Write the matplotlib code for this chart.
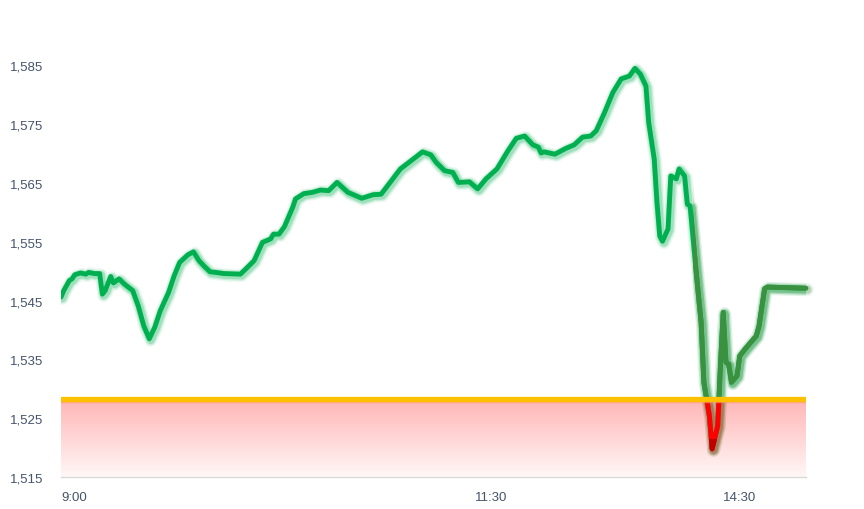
import matplotlib
matplotlib.use("Agg")
import matplotlib.pyplot as plt
import matplotlib.patheffects as pe
from matplotlib.patches import Rectangle
from matplotlib.colors import LinearSegmentedColormap
import numpy as np

# minutes of trading time since 9:00 (lunch break removed) and price
minutes = [0, 1, 3, 4, 5, 7, 9, 10, 12, 14, 15, 16, 18, 19, 21, 23, 26, 28, 30, 32,
           34, 36, 39, 41, 43, 46, 48, 50, 52, 54, 56, 59, 65, 67, 70, 73, 76, 77, 79, 81,
           84, 85, 88, 91, 94, 97, 100, 104, 109, 113, 116, 117, 123, 128, 131, 134, 136, 139, 142, 144,
           148, 151, 154, 158, 162, 165, 168, 171, 173, 174, 175, 179, 183, 186, 189, 192, 194, 197, 200, 203,
           206, 208, 210, 212, 213, 215, 216, 217, 218, 220, 221, 223, 224, 226, 227, 228, 230, 232, 233, 235,
           236, 238, 239, 240, 241, 242, 243, 245, 246, 248, 250, 252, 253, 255, 256, 270]
price = [1545.6, 1546.7, 1548.4, 1548.7, 1549.4, 1549.7, 1549.5, 1549.8, 1549.6, 1549.6,
         1546.1, 1546.7, 1549.1, 1548.0, 1548.7, 1547.8, 1546.7, 1544.1, 1540.7, 1538.5,
         1540.5, 1543.3, 1546.4, 1549.2, 1551.5, 1552.8, 1553.3, 1551.8, 1550.8, 1549.9,
         1549.8, 1549.6, 1549.5, 1550.4, 1551.8, 1554.9, 1555.5, 1556.3, 1556.3, 1557.6,
         1560.9, 1562.3, 1563.2, 1563.4, 1563.8, 1563.7, 1565.1, 1563.4, 1562.4, 1563.0,
         1563.1, 1563.7, 1567.4, 1569.2, 1570.3, 1569.8, 1568.5, 1567.1, 1566.8, 1565.1,
         1565.2, 1564.0, 1565.7, 1567.4, 1570.5, 1572.6, 1573.0, 1571.5, 1571.1, 1570.1,
         1570.3, 1569.9, 1570.9, 1571.5, 1572.8, 1573.0, 1573.9, 1577.0, 1580.4, 1582.7,
         1583.2, 1584.5, 1583.5, 1581.5, 1575.3, 1569.1, 1561.7, 1556.0, 1555.1, 1557.2,
         1566.2, 1565.7, 1567.4, 1566.2, 1561.4, 1561.1, 1550.9, 1541.3, 1531.1, 1525.4,
         1519.8, 1523.7, 1533.9, 1543.0, 1534.5, 1534.2, 1531.1, 1532.2, 1535.6, 1536.8,
         1537.9, 1539.0, 1540.7, 1547.0, 1547.3, 1547.1]
threshold = 1528.2
yticks = [1515, 1525, 1535, 1545, 1555, 1565, 1575, 1585]
xticks = [0, 150, 240]
xlabels = ["9:00", "11:30", "14:30"]

plt.rcParams['font.family'] = ['Liberation Sans', 'DejaVu Sans']

fig = plt.figure(figsize=(8.64, 5.10), dpi=100)
ax = fig.add_axes([61 / 864, 32 / 510, 745 / 864, 458.6 / 510])
ax.set_xlim(0, 270)
ax.set_ylim(1515, 1593)


def glow(c):
    return [pe.Stroke(linewidth=9.5, foreground=c, alpha=0.07, offset=(1, -1)),
            pe.Stroke(linewidth=7.5, foreground=c, alpha=0.14, offset=(1, -1)),
            pe.Stroke(linewidth=5.6, foreground=c, alpha=0.22, offset=(1, -1)),
            pe.Normal()]


# red gradient below threshold
cmap = LinearSegmentedColormap.from_list("redfade", ["#fff7f7", "#ffb5b5"])
grad = np.linspace(0, 1, 256).reshape(-1, 1)
ax.imshow(grad, extent=[0, 270, 1515, threshold], origin="lower", cmap=cmap,
          aspect="auto", zorder=1)

lw = 3.5
# main line: bright green, later dark green, red below threshold
ax.plot(minutes, price, color="#00b050", lw=lw, solid_capstyle="round",
        solid_joinstyle="round", zorder=3, path_effects=glow("#00b050"))
dark, = ax.plot(minutes, price, color="#3a913f", lw=lw, solid_capstyle="round",
                solid_joinstyle="round", zorder=4, path_effects=glow("#3a913f"))
dark.set_clip_path(Rectangle((229, 1500), 60, 120, transform=ax.transData))
red, = ax.plot(minutes, price, color="#ff0000", lw=lw, solid_capstyle="round",
               solid_joinstyle="round", zorder=5, path_effects=glow("#ff3030"))
red.set_clip_path(Rectangle((0, 1500), 270, threshold - 1500, transform=ax.transData))
dred, = ax.plot(minutes, price, color="#c00000", lw=lw, solid_capstyle="round",
                solid_joinstyle="round", zorder=6)
dred.set_clip_path(Rectangle((0, 1500), 270, 1521.5 - 1500, transform=ax.transData))

# threshold line
ax.axhline(threshold - 0.25, color="#ff9a6a", lw=2.5, alpha=0.6, zorder=6)
ax.axhline(threshold, color="#ffc000", lw=3.8, zorder=7)

for s in ["left", "right", "top"]:
    ax.spines[s].set_visible(False)
ax.spines["bottom"].set_color("#d9d9d9")
ax.spines["bottom"].set_linewidth(1)
ax.spines["bottom"].set_zorder(8)

ax.set_yticks(yticks)
ax.set_yticklabels([f"{v:,}" for v in yticks])
ax.set_xticks(xticks)
ax.set_xticklabels(xlabels, ha="left")
ax.tick_params(axis="both", length=0, labelsize=9.5, labelcolor="#44546a")
ax.tick_params(axis="y", pad=13)
ax.tick_params(axis="x", pad=10)

fig.savefig("out.png", dpi=100)
